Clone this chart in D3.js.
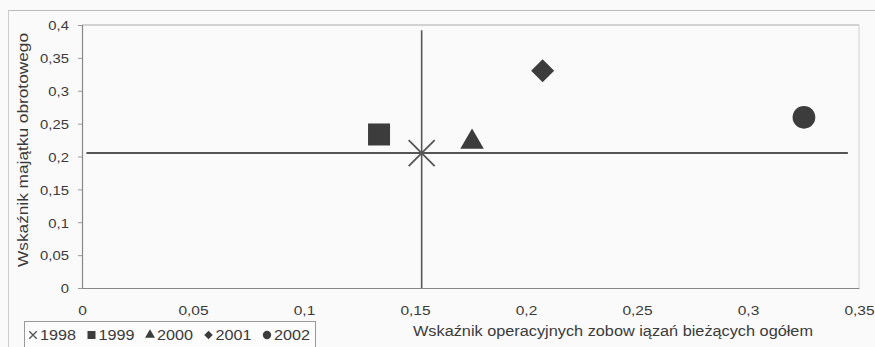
<!DOCTYPE html>
<html>
<head>
<meta charset="utf-8">
<script src="https://cdn.jsdelivr.net/npm/d3@7"></script>
<style>
  body { margin: 0; background: #fafafa; }
  svg { display: block; font-family: "Liberation Sans", Arial, sans-serif; }
</style>
</head>
<body>
<div id="chart"></div>
<script>
// ---- data ----
var years   = ['1998', '1999', '2000', '2001', '2002'];
var xValues = [0.153, 0.1338, 0.1757, 0.2075, 0.3252];   // operating current liabilities ratio
var yValues = [0.2053, 0.2335, 0.222, 0.3305, 0.2596];   // current assets ratio
var shapes  = ['x', 'square', 'triangle', 'diamond', 'circle'];

var xTicks = [0, 0.05, 0.1, 0.15, 0.2, 0.25, 0.3, 0.35];
var yTicks = [0, 0.05, 0.1, 0.15, 0.2, 0.25, 0.3, 0.35, 0.4];

// reference (average) lines
var hLineX = [0.002, 0.345];
var hLineY = 0.2053;
var vLineX = 0.153;
var vLineY = [0, 0.392];

var xTitle = 'Wskaźnik operacyjnych zobow iązań bieżących ogółem';
var yTitle = 'Wskaźnik majątku obrotowego';

(function () {
  var W = 875, H = 347;
  var ink = '#3c3c3c';

  var svg = d3.select('#chart').append('svg')
    .attr('width', W).attr('height', H);

  // outer frame (partly visible in the scan)
  svg.append('line').attr('x1', 8).attr('x2', W).attr('y1', 10.5).attr('y2', 10.5)
    .attr('stroke', '#bbb').attr('stroke-width', 1.2);
  svg.append('line').attr('x1', 8.5).attr('x2', 8.5).attr('y1', 10).attr('y2', H)
    .attr('stroke', '#ccc');

  var x = d3.scaleLinear().domain([0, 0.35]).range([82, 859]);
  var y = d3.scaleLinear().domain([0, 0.4]).range([288, 25]);

  var pl = d3.formatLocale({ decimal: ',', thousands: ' ', grouping: [3], currency: ['', ''] });
  var fmt = pl.format('~g');

  // plot area border (top / right)
  svg.append('line').attr('x1', x(0)).attr('x2', x(0.35)).attr('y1', y(0.4)).attr('y2', y(0.4))
    .attr('stroke', '#aaa');
  svg.append('line').attr('x1', x(0.35)).attr('x2', x(0.35)).attr('y1', y(0.4)).attr('y2', y(0))
    .attr('stroke', '#d0d0d0');

  // axes
  var gx = svg.append('g').attr('transform', 'translate(0,' + y(0) + ')')
    .call(d3.axisBottom(x).tickValues(xTicks).tickFormat(fmt).tickSize(0).tickPadding(17));
  var gy = svg.append('g').attr('transform', 'translate(' + x(0) + ',0)')
    .call(d3.axisLeft(y).tickValues(yTicks).tickFormat(fmt).tickSize(4).tickPadding(9));

  [gx, gy].forEach(function (g) {
    g.select('.domain').attr('stroke', '#888').attr('stroke-width', 1.2);
    g.selectAll('.tick line').attr('stroke', '#999');
    g.selectAll('.tick text').attr('fill', '#3a3a3a').style('font-size', '13.5px')
      .attr('font-family', '"Liberation Sans", Arial, sans-serif');
  });
  gx.selectAll('.tick text').attr('transform', 'scale(1.15,1)');
  gy.selectAll('.tick text').attr('x', -13 / 1.1).attr('dy', '0.36em')
    .attr('transform', 'scale(1.1,1)');

  // reference lines
  svg.append('line')
    .attr('x1', x(hLineX[0])).attr('x2', x(hLineX[1]))
    .attr('y1', y(hLineY)).attr('y2', y(hLineY))
    .attr('stroke', '#555').attr('stroke-width', 2);
  svg.append('line')
    .attr('x1', x(vLineX)).attr('x2', x(vLineX))
    .attr('y1', y(vLineY[0])).attr('y2', y(vLineY[1]))
    .attr('stroke', '#555').attr('stroke-width', 1.6);

  // marker shapes
  var symX = {
    draw: function (ctx, size) {
      var r = Math.sqrt(size) / 2;
      ctx.moveTo(-r, -r); ctx.lineTo(r, r);
      ctx.moveTo(r, -r); ctx.lineTo(-r, r);
    }
  };
  var types = { x: symX, square: d3.symbolSquare, triangle: d3.symbolTriangle,
                diamond: d3.symbolSquare, circle: d3.symbolCircle };
  var bigSize   = { x: 676, square: 484, triangle: 240, diamond: 265, circle: 405 };
  var smallSize = { x: 56, square: 64, triangle: 42, diamond: 36, circle: 55 };

  function drawMark(sel, shape, size, sw) {
    var p = sel.append('path').attr('d', d3.symbol(types[shape], size)());
    if (shape === 'x') p.attr('fill', 'none').attr('stroke', '#555').attr('stroke-width', sw);
    else p.attr('fill', ink);
    if (shape === 'diamond') p.attr('transform', 'rotate(45)');
    return p;
  }

  var pts = svg.append('g');
  years.forEach(function (yr, i) {
    var g = pts.append('g').attr('transform', 'translate(' + x(xValues[i]) + ',' + y(yValues[i]) + ')');
    drawMark(g, shapes[i], bigSize[shapes[i]], 1.8);
  });

  // axis titles
  svg.append('text')
    .attr('x', 413).attr('y', 336)
    .attr('textLength', 400).attr('lengthAdjust', 'spacingAndGlyphs')
    .attr('fill', '#3a3a3a').style('font-size', '14px')
    .text(xTitle);
  svg.append('text')
    .attr('transform', 'translate(28,267) rotate(-90)')
    .attr('textLength', 234).attr('lengthAdjust', 'spacingAndGlyphs')
    .attr('fill', '#3a3a3a').style('font-size', '15px')
    .text(yTitle);

  // legend
  var lg = svg.append('g');
  lg.append('rect').attr('x', 24.5).attr('y', 321.5).attr('width', 291).attr('height', 40)
    .attr('fill', '#fcfcfc').attr('stroke', '#999');
  years.forEach(function (yr, i) {
    var ox = 28 + 58.5 * i;
    var m = lg.append('g').attr('transform', 'translate(' + (ox + 5) + ',335)');
    drawMark(m, shapes[i], smallSize[shapes[i]], 1.4);
    lg.append('text').attr('x', ox + 12).attr('y', 340)
      .attr('textLength', 36).attr('lengthAdjust', 'spacingAndGlyphs')
      .attr('fill', '#3a3a3a').style('font-size', '14px')
      .text(yr);
  });
})();
</script>
</body>
</html>
